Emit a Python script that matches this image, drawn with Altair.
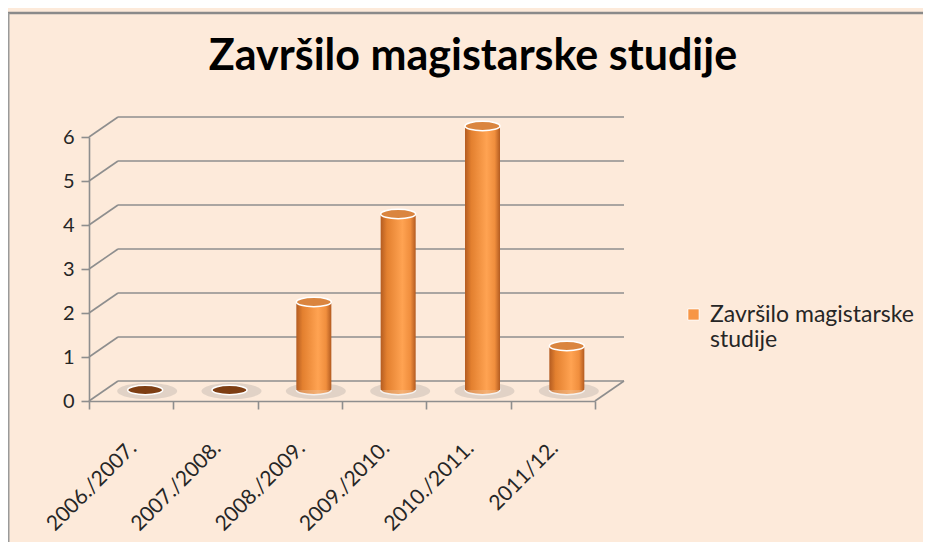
import altair as alt
import pandas as pd

# ---- data ----
categories = ["2006./2007.", "2007./2008.", "2008./2009.", "2009./2010.", "2010./2011.", "2011/12."]
values = [0, 0, 2, 4, 6, 1]
y_ticks = [0, 1, 2, 3, 4, 5, 6]
series_name = "Završilo magistarske studije"
legend_lines = ["Završilo magistarske", "studije"]
title_text = "Završilo magistarske studije"

df = pd.DataFrame({"godina": categories, "broj": values, "serija": series_name})
ticks_df = pd.DataFrame({"t": y_ticks})

# ---- layout / style ----
W, H = 506, 264
PAD_L, PAD_T = 81, 129
DX, DY = 29, -20      # depth of the 3D wall
BX, BY = 14, -11      # cylinder shift (middle depth)
BAR_W = 35
bg = "#FDEADA"
grid_c = "#8E8E8E"
font = "Lato"
ellipse = "M-1,0A1,0.27,0,1,1,1,0A1,0.27,0,1,1,-1,0Z"

bar_grad = alt.Gradient(
    gradient="linear", x1=0, x2=1, y1=0, y2=0,
    stops=[
        alt.GradientStop(color="#B45C21", offset=0),
        alt.GradientStop(color="#E3802F", offset=0.18),
        alt.GradientStop(color="#FFA352", offset=0.62),
        alt.GradientStop(color="#F08E3D", offset=0.85),
        alt.GradientStop(color="#B35B20", offset=1),
    ],
)

yscale = alt.Scale(domain=[0, 6], nice=False, zero=True)
yax = alt.Axis(values=y_ticks, title=None, grid=False, tickSize=8, labelPadding=7,
               labelFontSize=20)
xax = alt.Axis(title=None, tickBand="extent", tickSize=8, labelAngle=-45,
               labelAlign="right", labelBaseline="alphabetic", labelOffset=6,
               labelPadding=40, labelFontSize=21)
xenc = alt.X("godina:N", sort=categories,
             scale=alt.Scale(domain=categories, paddingInner=0, paddingOuter=0), axis=xax)


def yenc(field):
    return alt.Y(field, type="quantitative", scale=yscale, axis=yax)


base = alt.Chart(df).transform_calculate(nula="0")
ticks = alt.Chart(ticks_df)

back_grid = ticks.mark_rule(color=grid_c, strokeWidth=1.6, yOffset=DY).encode(
    y=yenc("t"), x=alt.value(DX), x2=alt.value(W + DX))
diag = ticks.mark_rule(color=grid_c, strokeWidth=1.6, y2Offset=DY).encode(
    y=yenc("t"), y2=alt.Y2("t"), x=alt.value(0), x2=alt.value(DX))
floor_right = ticks.transform_filter("datum.t == 0").mark_rule(
    color=grid_c, strokeWidth=1.6, y2Offset=DY).encode(
    y=yenc("t"), y2=alt.Y2("t"), x=alt.value(W), x2=alt.value(W + DX))

# chart frame (top and left border lines of the chart area)
frame_top = ticks.transform_filter("datum.t == 6").mark_rule(
    color="#8A8A8A", strokeWidth=2.5).encode(
    x=alt.value(-PAD_L), x2=alt.value(915 - PAD_L), y=alt.value(-PAD_T + 5))
frame_left = ticks.transform_filter("datum.t == 6").mark_rule(
    color="#9A9A9A", strokeWidth=1.5).encode(
    x=alt.value(-PAD_L + 0.75), y=alt.value(-PAD_T + 5), y2=alt.value(534 - PAD_T))

shadow = base.mark_point(shape=ellipse, filled=True, color="#808080", opacity=0.22,
                         size=60 ** 2, xOffset=BX + 2, yOffset=BY + 1, strokeWidth=0).encode(
    x=xenc, y=yenc("nula"))
bottom_cap = base.transform_filter("datum.broj > 0").mark_point(
    shape=ellipse, filled=True, fill=bar_grad, stroke="white", strokeWidth=1.5,
    size=BAR_W ** 2, xOffset=BX, yOffset=BY).encode(x=xenc, y=yenc("nula"))
bars = base.transform_filter("datum.broj > 0").mark_bar(
    size=BAR_W, fill=bar_grad, xOffset=BX, yOffset=BY, y2Offset=BY).encode(
    x=xenc, y=yenc("broj"), y2=alt.Y2("nula"))
top_cap = base.mark_point(shape=ellipse, filled=True, stroke="white", strokeWidth=1.5,
                          opacity=1, size=BAR_W ** 2, xOffset=BX, yOffset=BY).encode(
    x=xenc, y=yenc("broj"),
    fill=alt.condition("datum.broj == 0", alt.value("#7E3E13"), alt.value("#DA853F")))

legend_expr = "[" + ", ".join("'" + s + "'" for s in legend_lines) + "]"
legend_layer = base.mark_square(opacity=0, size=121).encode(
    x=xenc, y=yenc("broj"),
    color=alt.Color("serija:N", scale=alt.Scale(range=["#F79646"]),
                    legend=alt.Legend(title=None, orient="none", legendX=593, legendY=166,
                                      symbolType="square", symbolSize=130, symbolOpacity=1,
                                      symbolStrokeColor="white", symbolStrokeWidth=1,
                                      labelFont=font, labelFontSize=23, labelColor="#262626",
                                      labelOffset=5, labelLimit=400, padding=0,
                                      labelExpr=legend_expr)))

chart = alt.layer(
    frame_top, frame_left, back_grid, diag, floor_right, shadow, bottom_cap, bars, top_cap,
    legend_layer
).properties(
    width=W, height=H,
    autosize=alt.AutoSizeParams(type="none"),
    padding={"left": PAD_L, "top": PAD_T, "right": 915 - PAD_L - W, "bottom": 534 - PAD_T - H},
    title=alt.TitleParams(title_text, font=font, fontSize=43, fontWeight="bold",
                          color="#000000", anchor="middle", dx=131, offset=-67),
).configure(background=bg).configure_view(stroke=None).configure_axis(
    domainColor=grid_c, domainWidth=1.6, tickColor=grid_c, tickWidth=1.6,
    labelFont=font, labelColor="#262626",
)

chart.save("out.html", embed_options={"renderer": "svg", "actions": False})
